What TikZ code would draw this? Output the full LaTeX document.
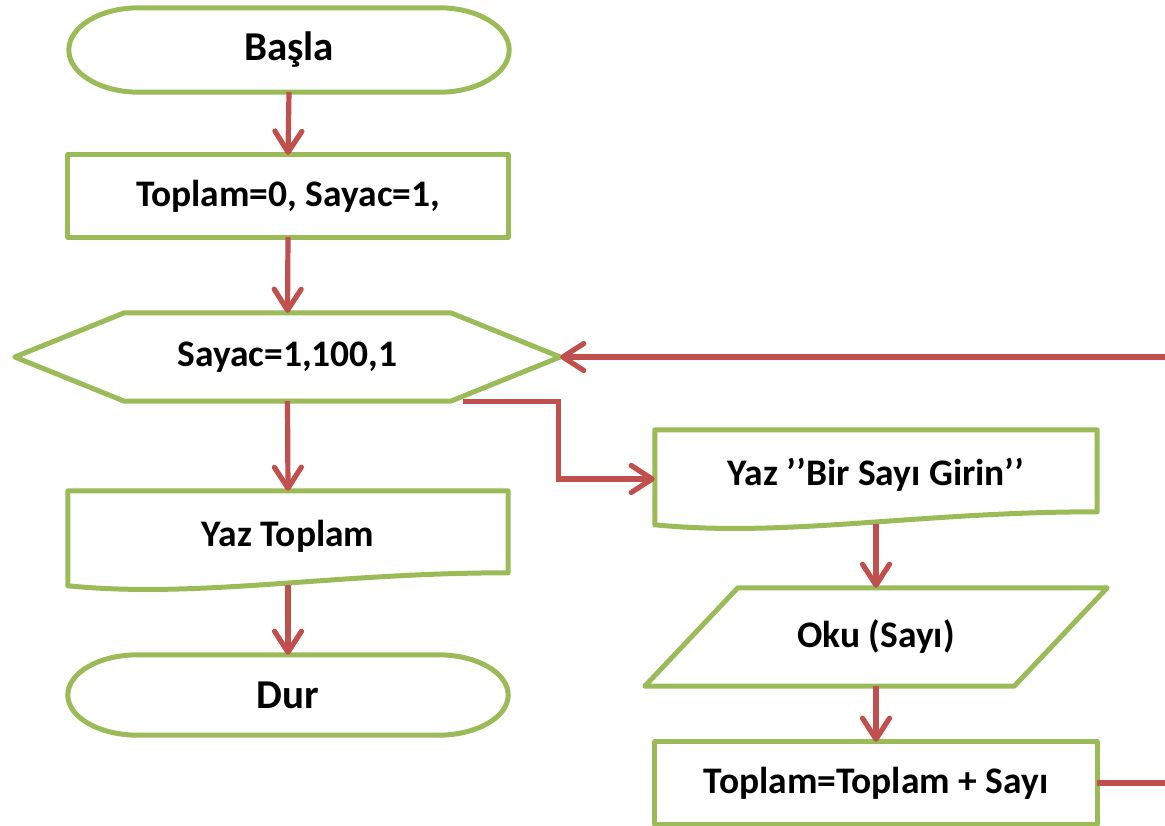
\documentclass[tikz,border=0pt]{standalone}
\usepackage{fontspec}
\setmainfont{Carlito}
\usetikzlibrary{arrows.meta,calc}
\definecolor{boxgreen}{HTML}{9BBB59}
\definecolor{linkred}{HTML}{C0504D}
\begin{document}
\begin{tikzpicture}[x=1pt,y=1pt,
  outline/.style={draw=boxgreen,line width=5pt,line join=round},
  shapebox/.style={draw=none,inner sep=0pt,font=\bfseries\fontsize{37.5}{42}\selectfont},
  termbox/.style={shapebox,font=\bfseries\fontsize{41}{46}\selectfont},
  link/.style={draw=linkred,line width=5.2pt},
  arr/.style={link,-{Straight Barb[length=21pt,width=27pt,round]}}]
\useasboundingbox (0,0) rectangle (1165,-826);

% node frames (text areas sized to the drawn outlines)
\node[termbox,minimum width=440pt,minimum height=84pt] (start) at (289,-50) {Başla};
\node[shapebox,minimum width=440pt,minimum height=82pt] (init) at (288,-196) {Toplam=0, Sayac=1,};
\node[shapebox,minimum width=545pt,minimum height=88pt] (loop) at (287.5,-357) {Sayac=1,100,1};
\node[shapebox,minimum width=440pt,minimum height=90pt] (out) at (288,-536) {Yaz Toplam};
\node[termbox,minimum width=440pt,minimum height=80pt] (stop) at (288,-695) {Dur};
\node[shapebox,minimum width=442pt,minimum height=90pt] (ask) at (876,-475) {Yaz ’’Bir Sayı Girin’’};
\node[shapebox,minimum width=462pt,minimum height=98pt] (read) at (876,-637) {Oku (Sayı)};
\node[shapebox,minimum width=442pt,minimum height=82pt] (sum) at (876,-783) {Toplam=Toplam + Sayı};

% terminals with elliptical ends
\foreach \nm in {start,stop}{
  \draw[outline]
    let \p1=(\nm.north west), \p2=(\nm.south east), \n1={(\y1-\y2)/2} in
    (\x1+70pt,\y1) -- (\x2-70pt,\y1)
    arc[start angle=90,end angle=-90,x radius=70pt,y radius=\n1]
    -- (\x1+70pt,\y2)
    arc[start angle=270,end angle=90,x radius=70pt,y radius=\n1] -- cycle;
}

% process boxes
\draw[outline] (init.north west) rectangle (init.south east);
\draw[outline] (sum.north west) rectangle (sum.south east);

% loop hexagon
\draw[outline] (loop.west) -- ($(loop.north west)+(109.5,0)$) -- ($(loop.north east)+(-109.5,0)$)
  -- (loop.east) -- ($(loop.south east)+(-109.5,0)$) -- ($(loop.south west)+(109.5,0)$) -- cycle;

% input parallelogram
\draw[outline] ($(read.north west)+(93,0)$) -- (read.north east)
  -- ($(read.south east)+(-93,0)$) -- (read.south west) -- cycle;

% documents with wavy bottoms
\foreach \nm in {out,ask}{
  \draw[outline]
    let \p1=(\nm.north west), \p2=(\nm.north east) in
    (\p1) -- (\p2) -- (\x2,\y2-82pt)
    .. controls (\x1+263pt,\y1-82pt) and (\x1+133pt,\y1-108pt) .. (\x1,\y1-95pt) -- cycle;
}

% connectors
\draw[arr] (start.south) -- (init.north);
\draw[arr] (init.south) -- (loop.north);
\draw[arr] (loop.south) -- (out.north);
\draw[arr] ($(out.south)+(0,-4)$) -- (stop.north);
\coordinate (branch) at ($(loop.south east)+(-97,0)$);
\draw[arr] (branch) -- ++(95,0) |- ($(ask.west)+(0,-4)$);
\draw[arr] ($(ask.south)+(0,-4)$) -- (read.north);
\draw[arr] (read.south) -- (sum.north);
\coordinate (backin) at (1167,-357);
\coordinate (backout) at (1167,-783);
\draw[arr] (backin) -- (loop.east);
\draw[link] (sum.east) -- (backout);
\end{tikzpicture}
\end{document}
